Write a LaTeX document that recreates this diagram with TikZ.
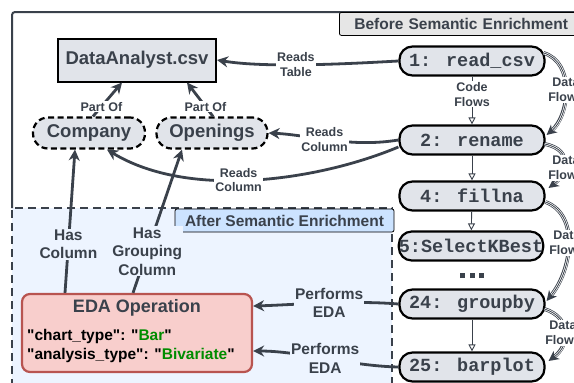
\documentclass[tikz,border=0pt]{standalone}
\usepackage{fontspec}
\setmainfont{Liberation Sans}
\newfontfamily\codefont{Liberation Mono}
\newfontfamily\attrfont{Liberation Sans}[Ligatures=TeXOff]
\usetikzlibrary{arrows.meta,calc}

\definecolor{ink}{HTML}{3A414B}
\definecolor{nodegray}{HTML}{E1E4EA}
\definecolor{afterfill}{HTML}{EDF4FF}
\definecolor{aftertagfill}{HTML}{CCE3FF}
\definecolor{beforetagfill}{HTML}{E6E6E6}
\definecolor{edafill}{HTML}{F8CECC}
\definecolor{edaborder}{HTML}{B85450}
\definecolor{valgreen}{HTML}{008C00}

% triple-stroke connector for data flow
\newcommand\dflow[1]{%
  \draw[ink, line width=3.8pt, -{Stealth[length=10pt,width=10pt,inset=3pt]}] #1;
  \draw[white, line width=2.3pt, shorten >=8pt] #1;
  \draw[ink, line width=0.8pt, shorten >=8pt] #1;
}
% one square dot of the ellipsis
\newcommand\sqdot{\rule{5pt}{5pt}}

\begin{document}
\begin{tikzpicture}[x=1pt,y=-1pt,
  mainfont/.style={font=\bfseries\fontsize{18.5}{20}\selectfont},
  lbl/.style={font=\bfseries\fontsize{12.5}{14.5}\selectfont, text=ink, fill=white,
              align=center, inner sep=1pt},
  biglbl/.style={font=\bfseries\fontsize{15.5}{18.5}\selectfont, text=ink, fill=afterfill,
              align=center, inner sep=1pt},
  datafile/.style={mainfont, text=ink, draw=black, line width=2pt, fill=nodegray,
              minimum width=158, minimum height=43, inner sep=0pt},
  column/.style={mainfont, text=ink, draw=black, line width=2.2pt, fill=nodegray,
              dash pattern=on 6pt off 3.5pt, rounded corners=15pt,
              minimum height=31, inner sep=0pt},
  codebox/.style={font=\codefont\bfseries\fontsize{18.5}{20}\selectfont, text=ink,
              draw=black, line width=2.2pt, fill=nodegray, rounded corners=13pt,
              minimum width=145, minimum height=29, inner sep=0pt},
  arr/.style={draw=ink, line width=2.8pt, -{Stealth[length=11pt,width=11pt,inset=3.5pt]}},
  codeflow/.style={draw=ink, line width=0.9pt, -{Triangle[open,length=7pt,width=7pt]}},
  tag/.style={font=\bfseries\fontsize{15.5}{17}\selectfont, text=ink, draw=black,
              line width=0.8pt, rounded corners=2pt, minimum height=23, inner ysep=0pt},
]
\useasboundingbox (0,0) rectangle (574,383);

% regions
\fill[afterfill] (12,208) rectangle (392,400);
\draw[ink, line width=2pt, rounded corners=3pt] (12,208) -- (12,12) -- (620,12);
\draw[ink, line width=2pt, dash pattern=on 8pt off 5pt] (12,400) -- (12,208) -- (392,208) -- (392,400);

\node[tag, fill=beforetagfill, anchor=north west, text width=230pt, align=left,
      inner xsep=15pt] (beforetag) at (339,12) {Before Semantic Enrichment};
\node[tag, fill=aftertagfill, minimum width=219] (aftertag) at (284.5,220.5) {After Semantic Enrichment};

% data nodes
\node[datafile] (csv) at (137,60) {DataAnalyst.csv};
\node[column, minimum width=112] (company) at (89,133) {Company};
\node[column, minimum width=111] (openings) at (212,133) {Openings};

% code nodes
\node[codebox] (n1) at (472,61) {1: read\_csv};
\node[codebox] (n2) at (472,140) {2: rename};
\node[codebox] (n4) at (472,196) {4: fillna};
\node[codebox, minimum width=140] (n5) at (471,246) {5:SelectKBest};
\node[text=ink, inner sep=0pt] (dots) at (472,275.5) {\sqdot\hspace{4.5pt}\sqdot\hspace{4.5pt}\sqdot};
\node[codebox] (n24) at (472,304) {24: groupby};
\node[codebox] (n25) at (472,367) {25: barplot};

% EDA operation
\node[draw=edaborder, fill=edafill, line width=2.2pt, rounded corners=8pt,
      minimum width=230, minimum height=78] (eda) at (137,333) {};
\node[font=\bfseries\fontsize{18}{20}\selectfont, text=ink] (edatitle) at (137,308) {EDA Operation};
\node[font=\attrfont\bfseries\fontsize{15.5}{19}\selectfont, text=black, anchor=west, align=left,
      inner sep=0pt] (edaattrs) at (27,345.5)
  {"chart\_type": "\textcolor{valgreen}{Bar}"\\"analysis\_type": "\textcolor{valgreen}{Bivariate}"};

% code flow
\draw[codeflow] (n1) -- (n2) node[lbl, pos=0.37] {Code\\Flows};
\draw[codeflow] (n2) -- (n4);
\draw[codeflow] (n4) -- (n5);
\draw[codeflow] (n24) -- (n25);

% data flow
\dflow{($(n1.east)+(-2,-8)$) .. controls (575,62) and (570,115) .. ($(n2.east)+(1,-5)$)}
\dflow{($(n2.east)+(-1,4)$) .. controls (575,150) and (566,175) .. ($(n4.east)+(3,-8)$)}
\dflow{($(n4.east)+(0,6)$) .. controls (580,215) and (572,270) .. ($(n24.east)+(1,-3)$)}
\dflow{($(n24.east)+(-1,5)$) .. controls (572,318) and (570,345) .. ($(n25.east)+(3,-6)$)}
\node[lbl] (df1) at (566,90) {Data\\Flows};
\node[lbl] (df2) at (566,168) {Data\\Flows};
\node[lbl] (df3) at (567,243) {Data\\Flows};
\node[lbl] (df4) at (563,333) {Data\\Flows};

% relations
\draw[arr] (n1.west) .. controls (345,64) and (265,68) .. (csv.east)
  node[lbl, pos=0.55] {Reads\\Table};
\draw[arr] ($(company.north)+(4,0)$) -- ($(csv.south)+(-15,0)$)
  node[lbl, pos=0.29] {Part Of};
\draw[arr] ($(openings.north)+(1,0)$) -- ($(csv.south)+(50,0)$)
  node[lbl, pos=0.29] {Part Of};
\draw[arr] (n2.west) .. controls (350,148) and (310,135) .. (openings.east)
  node[lbl, pos=0.55] {Reads\\Column};
\draw[arr] ($(n2.west)+(0,7)$) .. controls (320,180) and (190,200) .. ($(company.south)+(18,0)$)
  node[lbl, pos=0.55] {Reads\\Column};
\draw[arr] ($(eda.north)+(-72,0)$) -- ($(company.south)+(-14,0)$)
  node[biglbl, pos=0.34] {Has\\Column};
\draw[arr] ($(eda.north)+(-4,0)$) -- ($(openings.south)+(-30,0)$)
  node[biglbl, pos=0.29] {Has\\Grouping\\Column};
\draw[arr] (n24.west) .. controls (350,300) and (290,305) .. ($(eda.east)+(0,-27)$)
  node[biglbl, pos=0.45] {Performs\\EDA};
\draw[arr] (n25.west) .. controls (350,366) and (300,351) .. ($(eda.east)+(0,18)$)
  node[biglbl, pos=0.5] {Performs\\EDA};
\end{tikzpicture}
\end{document}
